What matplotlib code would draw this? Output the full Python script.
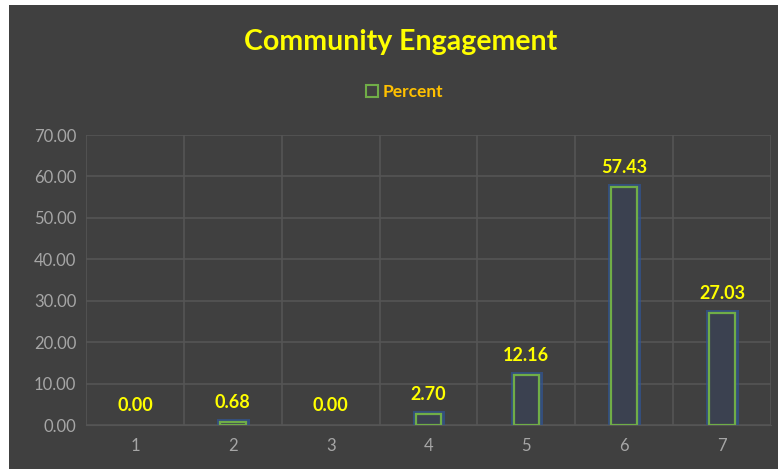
import matplotlib.pyplot as plt
import matplotlib.patches as mpatches
import numpy as np

categories = ["1", "2", "3", "4", "5", "6", "7"]
percent = [0.00, 0.68, 0.00, 2.70, 12.16, 57.43, 27.03]
yticks = [0, 10, 20, 30, 40, 50, 60, 70]

plt.rcParams['font.family'] = ['Lato', 'DejaVu Sans']

bg = "#404040"
fig = plt.figure(figsize=(7.78, 4.69), dpi=100, facecolor="white")
# dark chart area with a thin white margin left/top
fig.patches.append(mpatches.Rectangle((9 / 778, 0), 1, 1 - 5 / 469, transform=fig.transFigure,
                                      facecolor=bg, edgecolor="none", zorder=-10))

ax = fig.add_axes([86 / 778, 1 - 425 / 469, 685 / 778, 290 / 469])
ax.set_facecolor(bg)
ax.patch.set_alpha(0)

x = np.arange(1, len(categories) + 1)
vals = np.array(percent)
nz = vals > 0  # zero bars are not drawn in the original
w = 0.26
# glow
ax.bar(x[nz], vals[nz], width=w, facecolor="none", edgecolor="#2f5597", linewidth=5, alpha=0.7, zorder=2)
ax.bar(x[nz], vals[nz], width=w, facecolor="#3b4150", edgecolor="#70ad47", linewidth=1.6, zorder=3)

for xi, v in zip(x, percent):
    ax.annotate(f"{v:.2f}", (xi, v), xytext=(0, 8), textcoords="offset points",
                ha="center", va="bottom", color="#ffff00", fontsize=13, fontweight="bold")

ax.set_xlim(0.5, 7.5)
ax.set_ylim(0, 70)
ax.set_yticks(yticks)
ax.set_yticklabels([f"{t:.2f}" for t in yticks])
ax.set_xticks(x)
ax.set_xticklabels(categories)
ax.set_xticks(np.arange(0.5, 8, 1), minor=True)
ax.grid(True, axis="y", which="major", color="#555555", linewidth=1.2)
ax.grid(True, axis="x", which="minor", color="#555555", linewidth=1.2)
ax.set_axisbelow(True)
ax.tick_params(which="both", length=0)
ax.tick_params(axis="y", colors="#a6a6a6", labelsize=12, pad=7)
ax.tick_params(axis="x", colors="#a6a6a6", labelsize=12, pad=9)
for s in ax.spines.values():
    s.set_visible(False)
ax.spines["bottom"].set_visible(True)
ax.spines["bottom"].set_color("#555555")

fig.text(0.515, 1 - 42 / 469, "Community Engagement", ha="center", va="center",
         color="#ffff00", fontsize=20.5, fontweight="bold")
handle = mpatches.Patch(facecolor="none", edgecolor="#70ad47", linewidth=1.5, label="Percent")
leg = fig.legend(handles=[handle], loc="center", bbox_to_anchor=(0.52, 1 - 92 / 469), frameon=False,
                 fontsize=12.5, handlelength=0.7, handleheight=0.7, handletextpad=0.3)
for t in leg.get_texts():
    t.set_color("#ffc000")
    t.set_fontweight("bold")

fig.savefig("out.png", dpi=100, facecolor="white")
